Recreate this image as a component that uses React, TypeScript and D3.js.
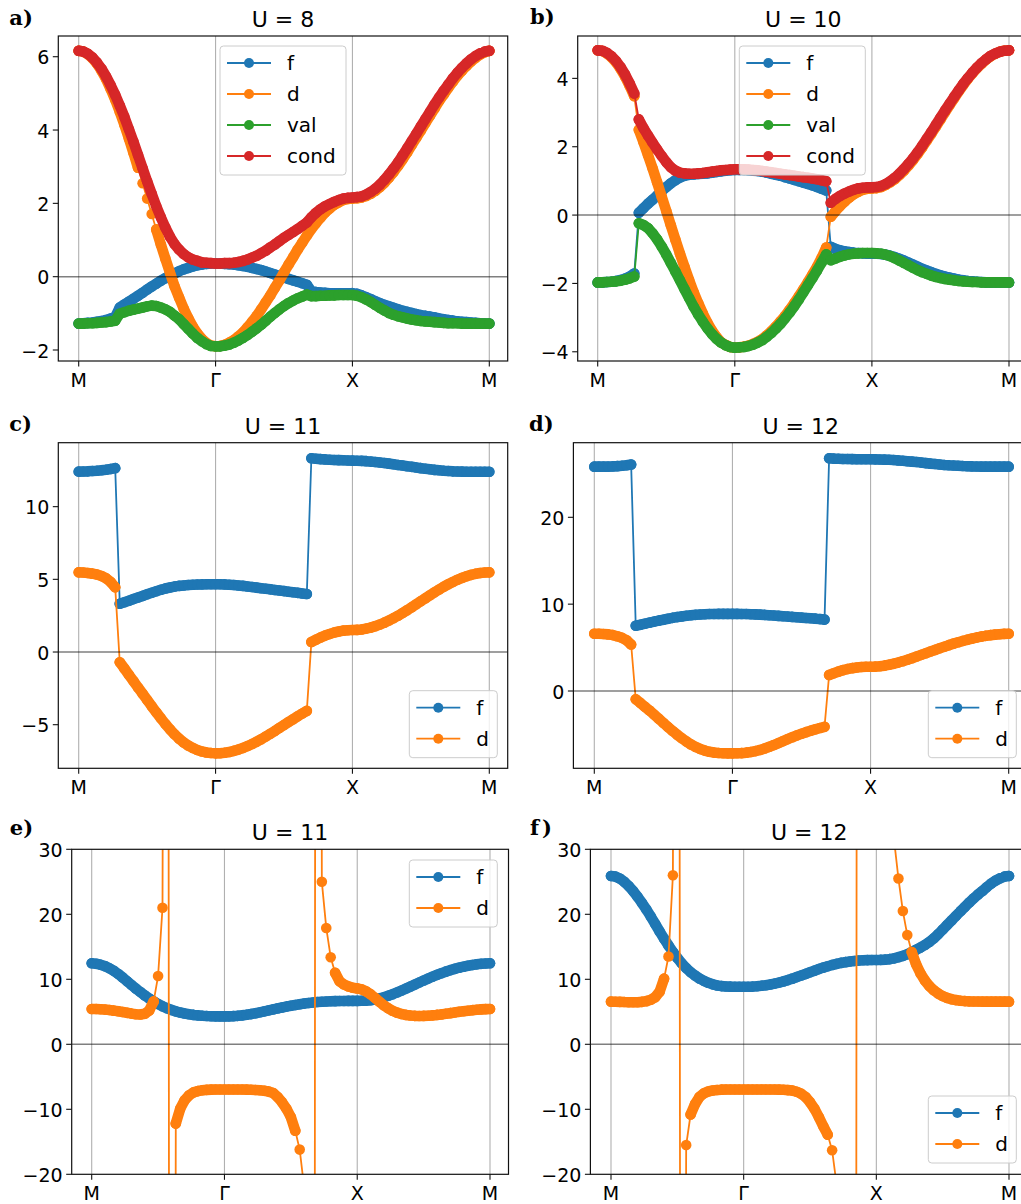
import React from 'react';
import * as d3 from 'd3';

// k-path sampling: 30 points per segment, M -> Γ -> X -> M
const PTS_PER_SEG = 30;
const KPATH = d3.range(0, 3 * PTS_PER_SEG + 1).map((i) => i / PTS_PER_SEG);
const XTICK_POS = [0, 1, 2, 3];
const XTICK_LABELS = ['M', 'Γ', 'X', 'M'];

const COLORS: Record<string, string> = { f: '#1f77b4', d: '#ff7f0e', val: '#2ca02c', cond: '#d62728' };

// ---------- panel a (U = 8) ----------
const A_F = [
  -1.28, -1.27, -1.26, -1.25, -1.23, -1.21, -1.18, -1.14, -1.10, -0.84, -0.76, -0.68, -0.60, -0.52, -0.44, -0.35, -0.27, -0.19, -0.11, -0.04, 0.03, 0.09, 0.15, 0.20, 0.24, 0.28, 0.31, 0.33, 0.35, 0.36, 0.36,
  0.36, 0.35, 0.34, 0.33, 0.31, 0.29, 0.27, 0.24, 0.21, 0.18, 0.14, 0.10, 0.06, 0.02, -0.02, -0.06, -0.10, -0.14, -0.18, -0.22, -0.40, -0.42, -0.43, -0.44, -0.45, -0.45, -0.45, -0.45, -0.45, -0.45,
  -0.47, -0.51, -0.56, -0.61, -0.67, -0.72, -0.77, -0.81, -0.85, -0.89, -0.93, -0.96, -0.99, -1.02, -1.05, -1.07, -1.09, -1.11, -1.14, -1.16, -1.18, -1.20, -1.22, -1.23, -1.24, -1.25, -1.26, -1.27, -1.28, -1.28,
];
const A_D = [
  6.16, 6.14, 6.07, 5.96, 5.81, 5.62, 5.39, 5.12, 4.83, 4.50, 4.15, 3.77, 3.38, 2.97, 2.55, 2.13, 1.71, 1.29, 0.88, 0.49, 0.11, -0.26, -0.57, -0.87, -1.13, -1.36, -1.55, -1.70, -1.81, -1.88, -1.90,
  -1.89, -1.86, -1.80, -1.73, -1.63, -1.52, -1.38, -1.23, -1.07, -0.89, -0.70, -0.51, -0.30, -0.10, 0.12, 0.33, 0.53, 0.74, 0.93, 1.12, 1.30, 1.46, 1.61, 1.75, 1.86, 1.96, 2.03, 2.09, 2.12, 2.13,
  2.14, 2.16, 2.20, 2.26, 2.34, 2.44, 2.56, 2.70, 2.85, 3.02, 3.20, 3.39, 3.59, 3.79, 3.99, 4.19, 4.39, 4.59, 4.79, 4.97, 5.15, 5.32, 5.48, 5.62, 5.75, 5.87, 5.97, 6.06, 6.12, 6.16,
];
const A_VAL = [
  -1.28, -1.28, -1.27, -1.27, -1.26, -1.25, -1.24, -1.22, -1.20, -1.01, -0.97, -0.93, -0.90, -0.87, -0.84, -0.81, -0.79, -0.80, -0.84, -0.89, -0.96, -1.06, -1.16, -1.29, -1.42, -1.55, -1.67, -1.76, -1.84, -1.89, -1.90,
  -1.90, -1.88, -1.85, -1.80, -1.74, -1.67, -1.59, -1.50, -1.41, -1.31, -1.20, -1.09, -0.99, -0.89, -0.80, -0.72, -0.65, -0.59, -0.54, -0.49, -0.53, -0.53, -0.52, -0.52, -0.51, -0.51, -0.50, -0.50, -0.50, -0.50,
  -0.52, -0.56, -0.62, -0.69, -0.77, -0.85, -0.92, -0.99, -1.04, -1.08, -1.11, -1.14, -1.17, -1.19, -1.21, -1.22, -1.23, -1.24, -1.25, -1.26, -1.27, -1.27, -1.27, -1.28, -1.28, -1.28, -1.28, -1.28, -1.28, -1.28,
];
const A_COND = [
  6.16, 6.14, 6.08, 5.98, 5.84, 5.67, 5.46, 5.22, 4.96, 4.67, 4.36, 4.02, 3.68, 3.32, 2.96, 2.60, 2.26, 1.92, 1.62, 1.34, 1.09, 0.89, 0.74, 0.62, 0.53, 0.47, 0.43, 0.39, 0.38, 0.37, 0.36,
  0.36, 0.37, 0.37, 0.38, 0.40, 0.43, 0.47, 0.52, 0.57, 0.64, 0.71, 0.80, 0.88, 0.97, 1.06, 1.14, 1.22, 1.30, 1.39, 1.48, 1.62, 1.74, 1.84, 1.92, 1.98, 2.04, 2.09, 2.13, 2.15, 2.16,
  2.17, 2.19, 2.24, 2.31, 2.40, 2.51, 2.64, 2.79, 2.95, 3.12, 3.31, 3.50, 3.70, 3.90, 4.10, 4.30, 4.50, 4.70, 4.89, 5.07, 5.24, 5.41, 5.56, 5.70, 5.82, 5.93, 6.02, 6.09, 6.14, 6.16,
];

// ---------- panel b (U = 10) ----------
const B_F = [
  -1.97, -1.97, -1.96, -1.95, -1.93, -1.90, -1.86, -1.80, -1.71, 0.07, 0.20, 0.33, 0.45, 0.57, 0.70, 0.82, 0.93, 1.02, 1.10, 1.15, 1.18, 1.19, 1.20, 1.21, 1.22, 1.24, 1.26, 1.28, 1.30, 1.31, 1.32,
  1.32, 1.32, 1.31, 1.30, 1.29, 1.27, 1.24, 1.21, 1.18, 1.15, 1.11, 1.07, 1.03, 0.99, 0.95, 0.91, 0.87, 0.82, 0.77, 0.72, -0.93, -0.99, -1.03, -1.06, -1.08, -1.10, -1.11, -1.12, -1.13, -1.13,
  -1.13, -1.14, -1.16, -1.19, -1.23, -1.28, -1.33, -1.39, -1.45, -1.51, -1.57, -1.62, -1.67, -1.72, -1.76, -1.80, -1.83, -1.86, -1.89, -1.91, -1.93, -1.94, -1.95, -1.96, -1.97, -1.97, -1.97, -1.97, -1.97, -1.97,
];
const B_D = [
  4.82, 4.80, 4.73, 4.62, 4.47, 4.28, 4.05, 3.78, 3.48, 2.50, 2.14, 1.76, 1.37, 0.96, 0.54, 0.12, -0.30, -0.72, -1.13, -1.52, -1.90, -2.26, -2.58, -2.88, -3.15, -3.38, -3.57, -3.72, -3.80, -3.86, -3.88,
  -3.87, -3.85, -3.82, -3.77, -3.71, -3.63, -3.52, -3.40, -3.26, -3.11, -2.95, -2.77, -2.58, -2.38, -2.17, -1.96, -1.74, -1.51, -1.25, -0.95, -0.05, 0.11, 0.26, 0.39, 0.51, 0.61, 0.68, 0.74, 0.77, 0.78,
  0.79, 0.82, 0.88, 0.96, 1.05, 1.17, 1.30, 1.45, 1.61, 1.79, 1.98, 2.18, 2.38, 2.59, 2.80, 3.01, 3.22, 3.42, 3.62, 3.81, 3.99, 4.15, 4.30, 4.43, 4.55, 4.65, 4.72, 4.78, 4.81, 4.82,
];
const B_VAL = [
  -1.97, -1.97, -1.96, -1.95, -1.94, -1.92, -1.89, -1.85, -1.80, -0.24, -0.29, -0.38, -0.53, -0.71, -0.92, -1.15, -1.40, -1.65, -1.91, -2.17, -2.43, -2.68, -2.91, -3.12, -3.31, -3.48, -3.62, -3.73, -3.81, -3.86, -3.88,
  -3.87, -3.86, -3.83, -3.79, -3.73, -3.66, -3.56, -3.45, -3.32, -3.18, -3.02, -2.85, -2.67, -2.47, -2.26, -2.05, -1.84, -1.62, -1.39, -1.15, -1.32, -1.27, -1.22, -1.18, -1.15, -1.13, -1.12, -1.11, -1.11, -1.11,
  -1.12, -1.13, -1.16, -1.20, -1.26, -1.33, -1.40, -1.47, -1.54, -1.61, -1.67, -1.72, -1.77, -1.81, -1.84, -1.87, -1.89, -1.91, -1.93, -1.94, -1.95, -1.96, -1.96, -1.97, -1.97, -1.97, -1.97, -1.97, -1.97, -1.97,
];
const B_COND = [
  4.82, 4.81, 4.75, 4.65, 4.51, 4.33, 4.11, 3.85, 3.56, 2.80, 2.55, 2.33, 2.12, 1.92, 1.73, 1.55, 1.40, 1.30, 1.24, 1.22, 1.21, 1.21, 1.22, 1.23, 1.25, 1.27, 1.29, 1.31, 1.32, 1.33, 1.34,
  1.34, 1.34, 1.33, 1.32, 1.31, 1.29, 1.27, 1.25, 1.23, 1.21, 1.19, 1.17, 1.15, 1.13, 1.11, 1.09, 1.07, 1.05, 1.02, 0.99, 0.36, 0.47, 0.56, 0.63, 0.69, 0.74, 0.78, 0.80, 0.81, 0.81,
  0.82, 0.85, 0.91, 0.99, 1.09, 1.21, 1.35, 1.50, 1.66, 1.84, 2.03, 2.23, 2.43, 2.64, 2.85, 3.06, 3.26, 3.46, 3.65, 3.84, 4.01, 4.17, 4.32, 4.45, 4.56, 4.66, 4.73, 4.78, 4.81, 4.82,
];

// ---------- panel c (U = 11) ----------
const C_F = [
  12.41, 12.42, 12.43, 12.45, 12.47, 12.50, 12.54, 12.59, 12.65, 3.32, 3.42, 3.53, 3.64, 3.75, 3.86, 3.97, 4.08, 4.18, 4.28, 4.37, 4.44, 4.50, 4.55, 4.58, 4.61, 4.63, 4.64, 4.65, 4.66, 4.66, 4.66,
  4.66, 4.65, 4.63, 4.61, 4.58, 4.55, 4.51, 4.47, 4.43, 4.39, 4.35, 4.31, 4.27, 4.23, 4.19, 4.15, 4.11, 4.07, 4.03, 3.99, 13.33, 13.30, 13.27, 13.25, 13.23, 13.21, 13.20, 13.19, 13.18, 13.17,
  13.16, 13.15, 13.13, 13.10, 13.07, 13.04, 13.00, 12.96, 12.92, 12.87, 12.83, 12.78, 12.74, 12.69, 12.65, 12.61, 12.57, 12.53, 12.50, 12.47, 12.45, 12.43, 12.42, 12.41, 12.40, 12.40, 12.40, 12.40, 12.40, 12.40,
];
const C_D = [
  5.48, 5.47, 5.44, 5.39, 5.33, 5.23, 5.07, 4.82, 4.45, -0.70, -1.13, -1.57, -2.00, -2.44, -2.87, -3.30, -3.73, -4.15, -4.56, -4.95, -5.32, -5.66, -5.96, -6.22, -6.43, -6.60, -6.74, -6.84, -6.91, -6.95, -6.97,
  -6.96, -6.93, -6.88, -6.80, -6.71, -6.60, -6.47, -6.33, -6.17, -6.00, -5.81, -5.62, -5.43, -5.22, -5.02, -4.82, -4.62, -4.42, -4.23, -4.05, 0.69, 0.85, 1.00, 1.13, 1.24, 1.34, 1.41, 1.47, 1.50, 1.51,
  1.52, 1.55, 1.61, 1.68, 1.78, 1.89, 2.02, 2.17, 2.33, 2.50, 2.69, 2.88, 3.08, 3.29, 3.50, 3.70, 3.91, 4.11, 4.30, 4.49, 4.66, 4.82, 4.97, 5.10, 5.21, 5.31, 5.38, 5.44, 5.47, 5.48,
];

// ---------- panel d (U = 12) ----------
const D_F = [
  25.83, 25.83, 25.83, 25.84, 25.86, 25.89, 25.93, 25.99, 26.07, 7.52, 7.63, 7.75, 7.87, 7.99, 8.10, 8.21, 8.32, 8.42, 8.51, 8.59, 8.66, 8.72, 8.77, 8.81, 8.84, 8.86, 8.87, 8.88, 8.88, 8.88, 8.88,
  8.88, 8.87, 8.86, 8.84, 8.82, 8.79, 8.76, 8.73, 8.69, 8.65, 8.61, 8.57, 8.53, 8.49, 8.45, 8.41, 8.37, 8.33, 8.28, 8.22, 26.79, 26.76, 26.74, 26.72, 26.71, 26.70, 26.69, 26.69, 26.68, 26.68,
  26.67, 26.66, 26.64, 26.62, 26.59, 26.55, 26.51, 26.46, 26.41, 26.36, 26.30, 26.24, 26.18, 26.13, 26.08, 26.03, 25.99, 25.96, 25.93, 25.90, 25.88, 25.86, 25.85, 25.84, 25.83, 25.83, 25.83, 25.83, 25.83, 25.83,
];
const D_D = [
  6.60, 6.59, 6.56, 6.52, 6.44, 6.30, 6.12, 5.85, 5.35, -0.95, -1.38, -1.82, -2.25, -2.72, -3.20, -3.67, -4.14, -4.60, -5.03, -5.44, -5.81, -6.15, -6.44, -6.67, -6.86, -7.00, -7.09, -7.14, -7.17, -7.18, -7.18,
  -7.17, -7.15, -7.10, -7.02, -6.92, -6.79, -6.62, -6.43, -6.22, -6.00, -5.77, -5.54, -5.32, -5.11, -4.92, -4.74, -4.57, -4.41, -4.26, -4.12, 1.84, 2.05, 2.23, 2.40, 2.53, 2.63, 2.71, 2.76, 2.79, 2.80,
  2.81, 2.85, 2.92, 3.02, 3.14, 3.28, 3.43, 3.60, 3.78, 3.97, 4.16, 4.35, 4.54, 4.73, 4.92, 5.10, 5.28, 5.45, 5.61, 5.76, 5.90, 6.03, 6.15, 6.26, 6.35, 6.43, 6.49, 6.54, 6.58, 6.60,
];

// ---------- panel e (U = 11) ----------
const E_F = [
  12.46, 12.40, 12.25, 12.02, 11.70, 11.30, 10.82, 10.28, 9.70, 9.12, 8.56, 8.03, 7.52, 7.04, 6.60, 6.20, 5.85, 5.55, 5.29, 5.07, 4.89, 4.74, 4.62, 4.52, 4.45, 4.39, 4.35, 4.32, 4.30, 4.29, 4.29,
  4.30, 4.33, 4.38, 4.45, 4.54, 4.65, 4.78, 4.92, 5.07, 5.22, 5.37, 5.52, 5.66, 5.80, 5.93, 6.05, 6.16, 6.26, 6.35, 6.43, 6.50, 6.55, 6.59, 6.62, 6.64, 6.66, 6.67, 6.68, 6.68, 6.68,
  6.69, 6.72, 6.79, 6.90, 7.05, 7.24, 7.46, 7.71, 7.98, 8.27, 8.57, 8.88, 9.19, 9.50, 9.81, 10.11, 10.40, 10.68, 10.94, 11.18, 11.40, 11.60, 11.78, 11.94, 12.08, 12.20, 12.30, 12.38, 12.44, 12.46,
];
const E_D = [
  5.44, 5.43, 5.40, 5.34, 5.27, 5.18, 5.08, 4.96, 4.84, 4.72, 4.62, 4.58, 4.70, 5.20, 6.60, 10.5, 21.0, 300, -400, -12.2, -9.9, -8.6, -7.85, -7.40, -7.20, -7.08, -7.01, -6.97, -6.95, -6.95, -6.95,
  -6.95, -6.95, -6.95, -6.96, -6.97, -6.99, -7.02, -7.07, -7.15, -7.28, -7.50, -8.10, -8.90, -9.90, -11.2, -13.3, -16.2, -22.0, -50, -400, 500, 25.0, 17.9, 13.4, 11.0, 9.7, 9.2, 8.9, 8.7, 8.6,
  8.45, 8.15, 7.70, 7.15, 6.55, 6.00, 5.55, 5.15, 4.87, 4.66, 4.52, 4.43, 4.38, 4.36, 4.37, 4.40, 4.45, 4.52, 4.60, 4.69, 4.79, 4.89, 4.99, 5.08, 5.17, 5.25, 5.31, 5.37, 5.41, 5.44,
];

// ---------- panel f (U = 12) ----------
const F_F = [
  25.90, 25.80, 25.50, 25.00, 24.35, 23.58, 22.70, 21.75, 20.75, 19.65, 18.50, 17.35, 16.25, 15.20, 14.20, 13.28, 12.45, 11.72, 11.10, 10.58, 10.13, 9.76, 9.46, 9.22, 9.05, 8.95, 8.90, 8.87, 8.86, 8.85, 8.85,
  8.86, 8.88, 8.93, 9.00, 9.09, 9.20, 9.34, 9.50, 9.68, 9.88, 10.10, 10.34, 10.58, 10.83, 11.08, 11.33, 11.57, 11.80, 12.01, 12.20, 12.37, 12.52, 12.64, 12.74, 12.82, 12.88, 12.92, 12.95, 12.97, 12.98,
  12.99, 13.03, 13.10, 13.22, 13.40, 13.60, 13.85, 14.18, 14.55, 14.90, 15.28, 15.75, 16.30, 16.95, 17.65, 18.35, 19.05, 19.75, 20.45, 21.12, 21.80, 22.45, 23.05, 23.60, 24.20, 24.75, 25.20, 25.55, 25.80, 25.90,
];
const F_D = [
  6.56, 6.55, 6.53, 6.50, 6.48, 6.47, 6.48, 6.53, 6.64, 6.85, 7.25, 8.10, 10.1, 13.5, 26.0, 400, -300, -15.5, -10.8, -9.2, -8.1, -7.55, -7.25, -7.10, -7.02, -6.98, -6.96, -6.95, -6.95, -6.95, -6.95,
  -6.95, -6.95, -6.95, -6.95, -6.95, -6.96, -6.96, -6.98, -7.00, -7.05, -7.12, -7.30, -7.60, -8.10, -8.90, -9.90, -11.2, -12.6, -13.9, -16.3, -21.5, -30, -50, -100, -400, 400, 150, 90, 65, 52,
  44, 38, 34, 31.5, 25.5, 20.5, 16.8, 14.2, 12.3, 10.9, 9.8, 8.95, 8.3, 7.8, 7.42, 7.14, 6.94, 6.80, 6.71, 6.65, 6.61, 6.59, 6.58, 6.57, 6.56, 6.56, 6.56, 6.56, 6.56, 6.56,
];

// ---------- tick values ----------
const A_YTICKS = [-2, 0, 2, 4, 6];
const B_YTICKS = [-4, -2, 0, 2, 4];
const C_YTICKS = [-5, 0, 5, 10];
const D_YTICKS = [0, 10, 20];
const EF_YTICKS = [-20, -10, 0, 10, 20, 30];

type SeriesDef = { name: string; values: number[] };
type PanelDef = {
  id: string;
  label: string;
  labelX: number;
  labelY: number;
  title: string;
  left: number;
  right: number;
  top: number;
  bottom: number;
  tick0: number;
  tick3: number;
  yDomain: [number, number];
  yTicks: number[];
  series: SeriesDef[];
  legend: { x: number; y: number; w: number };
};

const PANELS: PanelDef[] = [
  {
    id: 'a', label: 'a)', labelX: 9.3, labelY: 25, title: 'U = 8',
    left: 58.3, right: 507.7, top: 36, bottom: 361, tick0: 78.7, tick3: 489.3,
    yDomain: [-2.3, 6.565], yTicks: A_YTICKS,
    series: [{ name: 'f', values: A_F }, { name: 'd', values: A_D }, { name: 'val', values: A_VAL }, { name: 'cond', values: A_COND }],
    legend: { x: 220, y: 46, w: 126 },
  },
  {
    id: 'b', label: 'b)', labelX: 530, labelY: 24, title: 'U = 10',
    left: 577.7, right: 1029, top: 36, bottom: 361, tick0: 597.7, tick3: 1009,
    yDomain: [-4.27, 5.24], yTicks: B_YTICKS,
    series: [{ name: 'f', values: B_F }, { name: 'd', values: B_D }, { name: 'val', values: B_VAL }, { name: 'cond', values: B_COND }],
    legend: { x: 739.3, y: 46, w: 126 },
  },
  {
    id: 'c', label: 'c)', labelX: 9.3, labelY: 430.5, title: 'U = 11',
    left: 58.3, right: 507.7, top: 442.7, bottom: 768.3, tick0: 78.7, tick3: 489.3,
    yDomain: [-8.0, 14.4], yTicks: C_YTICKS,
    series: [{ name: 'f', values: C_F }, { name: 'd', values: C_D }],
    legend: { x: 409.3, y: 690.7, w: 88 },
  },
  {
    id: 'd', label: 'd)', labelX: 529, labelY: 430.5, title: 'U = 12',
    left: 573.4, right: 1028, top: 442.7, bottom: 768.3, tick0: 594.3, tick3: 1008.7,
    yDomain: [-8.9, 28.59], yTicks: D_YTICKS,
    series: [{ name: 'f', values: D_F }, { name: 'd', values: D_D }],
    legend: { x: 928.3, y: 690.7, w: 88 },
  },
  {
    id: 'e', label: 'e)', labelX: 9.8, labelY: 835.3, title: 'U = 11',
    left: 71.7, right: 508.5, top: 849.3, bottom: 1174.3, tick0: 91.7, tick3: 490,
    yDomain: [-20, 30], yTicks: EF_YTICKS,
    series: [{ name: 'f', values: E_F }, { name: 'd', values: E_D }],
    legend: { x: 409.3, y: 860, w: 88 },
  },
  {
    id: 'f', label: 'f)', labelX: 530, labelY: 835.3, title: 'U = 12',
    left: 590.4, right: 1028, top: 849.3, bottom: 1174.3, tick0: 611, tick3: 1009,
    yDomain: [-20, 30], yTicks: EF_YTICKS,
    series: [{ name: 'f', values: F_F }, { name: 'd', values: F_D }],
    legend: { x: 928.3, y: 1096, w: 88 },
  },
];

const SANS = 'DejaVu Sans, Verdana, sans-serif';
const SERIF = 'DejaVu Serif, Liberation Serif, serif';
const MARKER_R = 5.3;
const LINE_W = 1.8;
// consecutive markers closer than this (px) merge into a continuous band
const BAND_GAP = 16;

function fmtTick(v: number): string {
  return v < 0 ? '\u2212' + Math.abs(v) : String(v);
}

function Panel({ p }: { p: PanelDef }) {
  const x = d3.scaleLinear().domain([0, 3]).range([p.tick0, p.tick3]);
  const y = d3.scaleLinear().domain(p.yDomain).range([p.bottom, p.top]);
  const line = d3
    .line<number>()
    .x((_, i) => x(KPATH[i]))
    .y((v) => y(v));
  const clipId = `clip-${p.id}`;
  const w = p.right - p.left;
  const h = p.bottom - p.top;
  const nLeg = p.series.length;
  const legH = 17 + (nLeg - 1) * 31 + 19;

  const bandPath = (vals: number[]) => {
    const path = d3.path();
    for (let i = 0; i < vals.length - 1; i++) {
      const x0 = x(KPATH[i]);
      const y0 = y(vals[i]);
      const x1 = x(KPATH[i + 1]);
      const y1 = y(vals[i + 1]);
      if (Math.hypot(x1 - x0, y1 - y0) < BAND_GAP) {
        path.moveTo(x0, y0);
        path.lineTo(x1, y1);
      }
    }
    return path.toString();
  };

  return (
    <g>
      <defs>
        <clipPath id={clipId}>
          <rect x={p.left} y={p.top} width={w} height={h} />
        </clipPath>
      </defs>
      {/* vertical grid */}
      {XTICK_POS.map((t, i) => (
        <line key={'g' + i} x1={x(t)} x2={x(t)} y1={p.top} y2={p.bottom} stroke="#b0b0b0" strokeWidth={1.1} />
      ))}
      <g clipPath={`url(#${clipId})`}>
        {p.series.map((s) => (
          <g key={s.name}>
            <path d={line(s.values) || ''} fill="none" stroke={COLORS[s.name]} strokeWidth={LINE_W} strokeLinejoin="round" />
            <path d={bandPath(s.values)} fill="none" stroke={COLORS[s.name]} strokeWidth={2 * MARKER_R} strokeLinecap="round" />
            {s.values.map((v, i) => (
              <circle key={i} cx={x(KPATH[i])} cy={y(v)} r={MARKER_R} fill={COLORS[s.name]} />
            ))}
          </g>
        ))}
        <line x1={p.left} x2={p.right} y1={y(0)} y2={y(0)} stroke="#000" strokeOpacity={0.5} strokeWidth={1.6} />
      </g>
      {/* spines */}
      <rect x={p.left} y={p.top} width={w} height={h} fill="none" stroke="#111" strokeWidth={1.2} />
      {/* y ticks */}
      {p.yTicks.map((t) => (
        <g key={'y' + t}>
          <line x1={p.left - 5.5} x2={p.left} y1={y(t)} y2={y(t)} stroke="#111" strokeWidth={1.1} />
          <text x={p.left - 9} y={y(t) + 7.5} textAnchor="end" fontFamily={SANS} fontSize={19} fill="#000">
            {fmtTick(t)}
          </text>
        </g>
      ))}
      {/* x ticks */}
      {XTICK_POS.map((t, i) => (
        <g key={'x' + i}>
          <line x1={x(t)} x2={x(t)} y1={p.bottom} y2={p.bottom + 5.5} stroke="#111" strokeWidth={1.1} />
          <text x={x(t)} y={p.bottom + 25.5} textAnchor="middle" fontFamily={SANS} fontSize={19} fill="#000">
            {XTICK_LABELS[i]}
          </text>
        </g>
      ))}
      {/* title */}
      <text x={(p.left + p.right) / 2} y={p.top - 9} textAnchor="middle" fontFamily={SANS} fontSize={22} fill="#000">
        {p.title}
      </text>
      {/* legend */}
      <g>
        <rect x={p.legend.x} y={p.legend.y} width={p.legend.w} height={legH} rx={3.5} fill="#fff" fillOpacity={0.8} stroke="#cccccc" strokeWidth={1} />
        {p.series.map((s, i) => {
          const ly = p.legend.y + 17 + i * 31;
          return (
            <g key={'l' + s.name}>
              <line x1={p.legend.x + 7} x2={p.legend.x + 51} y1={ly} y2={ly} stroke={COLORS[s.name]} strokeWidth={LINE_W} />
              <circle cx={p.legend.x + 29} cy={ly} r={5} fill={COLORS[s.name]} />
              <text x={p.legend.x + 67} y={ly + 7} fontFamily={SANS} fontSize={20} fill="#000">
                {s.name}
              </text>
            </g>
          );
        })}
      </g>
      {/* panel label */}
      <text x={p.labelX} y={p.labelY} fontFamily={SERIF} fontWeight="bold" fontSize={21} fill="#000">
        {p.label === 'f)' ? (
          <>
            f<tspan dx={3}>)</tspan>
          </>
        ) : (
          p.label
        )}
      </text>
    </g>
  );
}

export default function App() {
  return (
    <svg
      width={1021}
      height={1204}
      viewBox="0 0 1021 1204"
      style={{ position: 'absolute', left: 0, top: 0, display: 'block', background: '#fff' }}
      xmlns="http://www.w3.org/2000/svg"
    >
      <rect x={0} y={0} width={1021} height={1204} fill="#fff" />
      {PANELS.map((p) => (
        <Panel key={p.id} p={p} />
      ))}
    </svg>
  );
}
